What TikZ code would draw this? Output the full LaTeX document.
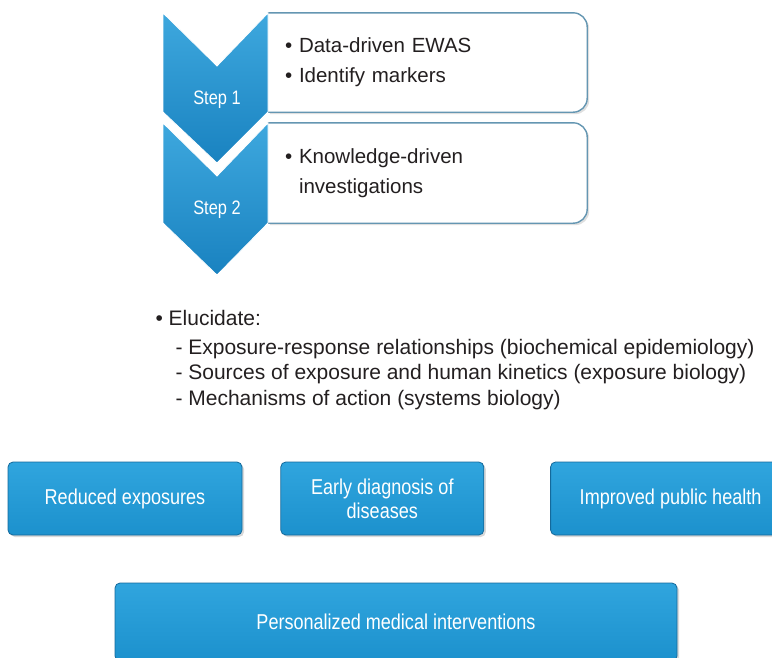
\documentclass[tikz,border=0pt]{standalone}
\usepackage{fontspec}
\setmainfont{Liberation Sans}
\newfontfamily\narrowfont{Liberation Sans}[FakeStretch=0.84]
\usepackage{xcolor}
\usetikzlibrary{positioning, shadows, backgrounds}

\definecolor{stepblue}{RGB}{25,130,192}
\definecolor{stepbluelight}{RGB}{62,168,222}
\definecolor{frameedge}{RGB}{100,150,178}
\definecolor{boxblue}{RGB}{28,145,205}
\definecolor{boxbluelight}{RGB}{48,165,222}
\definecolor{boxedge}{RGB}{20,105,155}
\definecolor{textdark}{RGB}{35,31,32}

\begin{document}
\begin{tikzpicture}[
    x=1pt, y=-1pt,
    chevron/.style={
        top color=stepbluelight, bottom color=stepblue,
        draw=white, line width=0.8pt
    },
    steplabel/.style={text=white, font=\narrowfont\fontsize{19.5}{22}\selectfont},
    stepbox/.style={
        rectangle, inner xsep=17pt, inner ysep=0pt,
        minimum width=319pt, text width=285pt,
        align=left, text=textdark,
        font=\fontsize{20.5}{30}\selectfont
    },
    stepframe/.style={
        draw=frameedge, line width=1.4pt, fill=white,
        rounded corners=14pt,
        drop shadow={opacity=0.25, shadow xshift=2pt, shadow yshift=-2pt}
    },
    outcome/.style={
        rectangle, rounded corners=5pt,
        draw=boxedge, line width=0.8pt,
        top color=boxbluelight, bottom color=boxblue,
        minimum height=73pt, align=center,
        text=white, font=\narrowfont\fontsize{21.5}{24}\selectfont,
        drop shadow={opacity=0.3, shadow xshift=2pt, shadow yshift=-2pt}
    },
    aims/.style={align=left, text=textdark, font=\fontsize{21}{25.5}\selectfont},
]
\useasboundingbox (0,0) rectangle (772,657);

% ---------- Step boxes ----------
\node[stepbox, minimum height=99pt] (box1) at (427.5,62.5) {\textbullet\ Data-driven EWAS\\\textbullet\ Identify markers};
\node[stepbox, minimum height=100pt] (box2) at (427.5,173) {\textbullet\ Knowledge-driven\\\phantom{\textbullet}\ investigations};

\begin{scope}[on background layer]
\path[stepframe] (box1.north west) -- (box1.north east) -- (box1.south east) -- (box1.south west);
\path[stepframe] (box2.north west) -- (box2.north east) -- (box2.south east) -- (box2.south west);
\end{scope}

% ---------- Chevrons ----------
\path[chevron] (163,13) -- (217,66) -- (268,13) -- (268,112) -- (217,163) -- (163,112) -- cycle;
\path[chevron] (163,123) -- (217,176) -- (268,123) -- (268,223) -- (217,275) -- (163,223) -- cycle;
\node[steplabel] (step1) at (217,100) {Step 1};
\node[steplabel] (step2) at (217,210) {Step 2};

% ---------- Elucidate ----------
\node[aims, anchor=north west] (elucidate) at (152,307) {%
    \textbullet\ Elucidate:\\[3pt]%
    \hspace*{20pt}- Exposure-response relationships (biochemical epidemiology)\\%
    \hspace*{20pt}- Sources of exposure and human kinetics (exposure biology)\\%
    \hspace*{20pt}- Mechanisms of action (systems biology)};

% ---------- Outcomes ----------
\node[outcome, minimum width=234pt] (reduced) at (125,498.5) {Reduced exposures};
\node[outcome, minimum width=203pt, right=38pt of reduced] (early) {Early diagnosis of\\diseases};
\node[outcome, minimum width=240pt, right=66pt of early] (improved) {Improved public health};
\node[outcome, minimum width=562pt, minimum height=78pt] (personal) at (396,622) {Personalized medical interventions};

\end{tikzpicture}
\end{document}
